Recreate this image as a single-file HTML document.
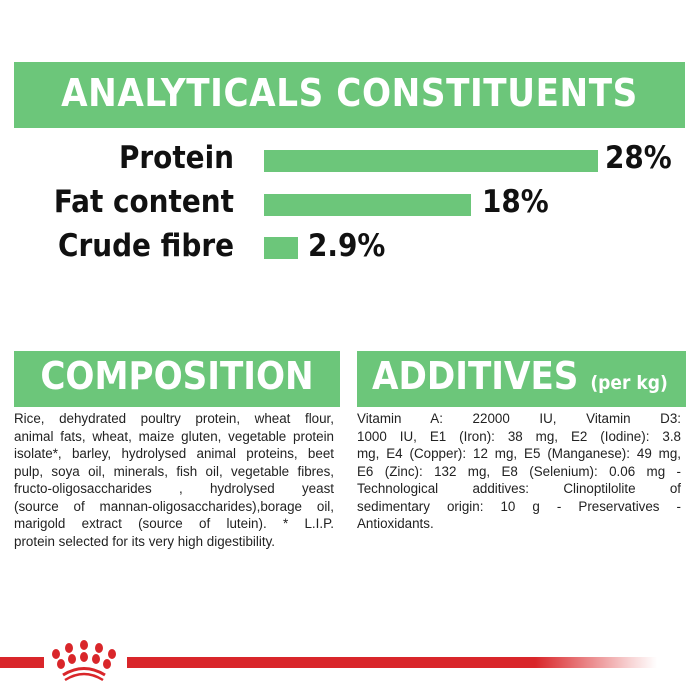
<!DOCTYPE html>
<html><head><style>
body{margin:0;width:700px;height:700px;background:#fff;position:relative;overflow:hidden;font-family:"Liberation Sans",sans-serif}
.a{position:absolute}
.g{background:#6cc67a}
.h{color:#fff;font-weight:bold;font-family:"DejaVu Sans Condensed","DejaVu Sans",sans-serif;white-space:nowrap}
.lab{font-weight:bold;font-size:31px;color:#111;white-space:nowrap;font-family:"DejaVu Sans Condensed","DejaVu Sans",sans-serif}
.t{font-size:13.4px;line-height:17.5px;color:#222;font-family:"Liberation Sans",sans-serif}
.t div{text-align:justify;text-align-last:justify;white-space:nowrap;height:17.5px}
.t div.l{text-align-last:left}
</style></head><body>
<div class="a g" style="left:14px;top:62px;width:671px;height:66px"></div>
<div class="a h" style="left:14px;top:71px;width:671px;text-align:center;font-size:38px;letter-spacing:0.6px">ANALYTICALS CONSTITUENTS</div>

<div class="a lab" style="right:466px;top:140px">Protein</div>
<div class="a g" style="left:264px;top:150px;width:334px;height:22px"></div>
<div class="a lab" style="left:605px;top:140px">28%</div>

<div class="a lab" style="right:466px;top:184px">Fat content</div>
<div class="a g" style="left:264px;top:194px;width:207px;height:22px"></div>
<div class="a lab" style="left:482px;top:184px">18%</div>

<div class="a lab" style="right:466px;top:228px">Crude fibre</div>
<div class="a g" style="left:264px;top:237px;width:34px;height:22px"></div>
<div class="a lab" style="left:308px;top:228px">2.9%</div>

<div class="a g" style="left:14px;top:351px;width:326px;height:56px"></div>
<div class="a h" style="left:14px;top:354px;width:326px;text-align:center;font-size:38px">COMPOSITION</div>
<div class="a g" style="left:357px;top:351px;width:329px;height:56px"></div>
<div class="a h" style="left:372px;top:354px;font-size:38px">ADDITIVES <span style="font-size:19px">(per kg)</span></div>

<div class="a t" style="left:14px;top:410px;width:320px">
<div>Rice, dehydrated poultry protein, wheat flour,</div>
<div>animal fats, wheat, maize gluten, vegetable protein</div>
<div>isolate*, barley, hydrolysed animal proteins, beet</div>
<div>pulp, soya oil, minerals, fish oil, vegetable fibres,</div>
<div>fructo-oligosaccharides , hydrolysed yeast</div>
<div>(source of mannan-oligosaccharides),borage oil,</div>
<div>marigold extract (source of lutein). * L.I.P.</div>
<div class="l">protein selected for its very high digestibility.</div>
</div>
<div class="a t" style="left:357px;top:410px;width:324px">
<div>Vitamin A: 22000 IU, Vitamin D3:</div>
<div>1000 IU, E1 (Iron): 38 mg, E2 (Iodine): 3.8</div>
<div>mg, E4 (Copper): 12 mg, E5 (Manganese): 49 mg,</div>
<div>E6 (Zinc): 132 mg, E8 (Selenium): 0.06 mg -</div>
<div>Technological additives: Clinoptilolite of</div>
<div>sedimentary origin: 10 g - Preservatives -</div>
<div class="l">Antioxidants.</div>
</div>

<div class="a" style="left:0;top:657px;width:44px;height:11px;background:#d9262a"></div>
<div class="a" style="left:127px;top:657px;width:530px;height:11px;background:linear-gradient(to right,#d9262a 0%,#d9262a 77%,rgba(217,38,42,0.2) 95%,rgba(217,38,42,0) 100%)"></div>
<svg class="a" style="left:48px;top:640px" width="76" height="42" viewBox="0 0 76 42">
<g fill="#d9262a">
<ellipse cx="8" cy="14" rx="4" ry="5"/><ellipse cx="21" cy="8" rx="4" ry="5"/><ellipse cx="36" cy="5" rx="4" ry="5"/><ellipse cx="51" cy="8" rx="4" ry="5"/><ellipse cx="64" cy="14" rx="4" ry="5"/>
<ellipse cx="13" cy="24" rx="4" ry="5"/><ellipse cx="24" cy="19" rx="4" ry="5"/><ellipse cx="36" cy="17" rx="4" ry="5"/><ellipse cx="48" cy="19" rx="4" ry="5"/><ellipse cx="59" cy="24" rx="4" ry="5"/>
</g>
<path d="M15 35 Q36 22 57 35" stroke="#d9262a" stroke-width="3" fill="none"/>
<path d="M17 40 Q36 28 55 40" stroke="#d9262a" stroke-width="2.5" fill="none"/>
</svg>
</body></html>
